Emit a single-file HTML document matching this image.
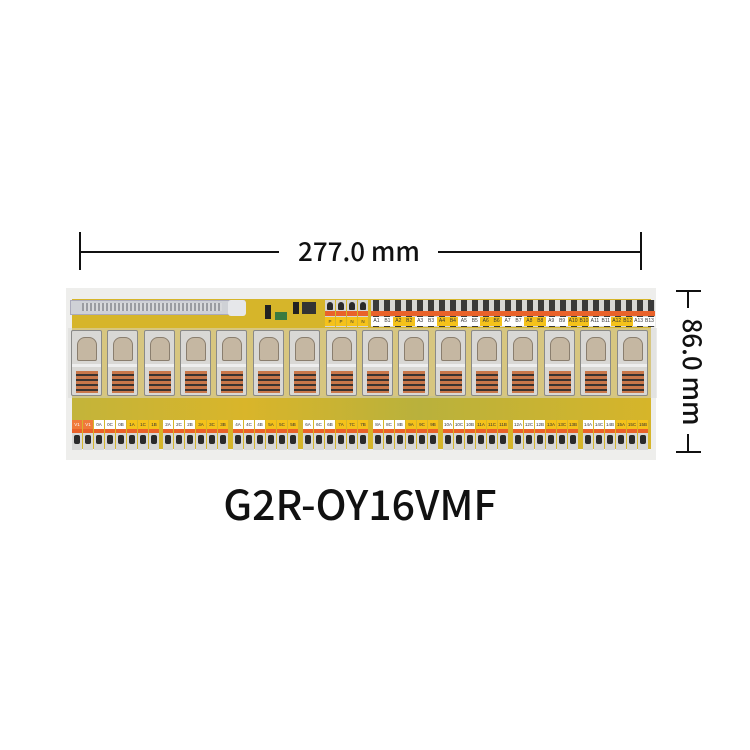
<!DOCTYPE html>
<html><head><meta charset="utf-8"><style>
*{margin:0;padding:0;box-sizing:border-box}
body{width:750px;height:750px;background:#fff;position:relative;overflow:hidden;font-family:"Liberation Sans",sans-serif}
.a{position:absolute}
.dimt{font-family:"Noto Sans CJK SC","Liberation Sans",sans-serif;color:#111;font-weight:500}
.relay{position:absolute;top:330px;width:31px;height:66px;background:#d9d8d5;border:1px solid #8a8a88;border-radius:2px}
.relay .cap{position:absolute;left:5px;top:6px;width:20px;height:24px;background:#c5b7a2;border-radius:8px 8px 2px 2px;border:1px solid #8a7e6e}
.relay .coil{position:absolute;left:4px;top:40px;width:22px;height:22px;background:repeating-linear-gradient(#c9774a 0 3px,#3a3330 3px 5px)}
.relay .mid{position:absolute;left:0;top:33px;width:29px;height:3px;background:#eee}
.tb{position:absolute;height:30px;display:flex;gap:1px}
.t{width:10px;height:30px;position:relative;background:#d8d8d6}
.t .l{position:absolute;top:0;left:0;width:10px;height:9px;font-size:4.5px;line-height:9px;text-align:center;color:#333}
.t .o{position:absolute;top:9px;left:0;width:10px;height:4px;background:#e9622a}
.t .h{position:absolute;top:15px;left:2px;width:6px;height:9px;background:#2a2a2a;border-radius:2px}
.tt{position:absolute;width:10px;height:27px;background:#d6d6d4}
.tt .h{position:absolute;top:2px;left:2px;width:6px;height:8px;background:#2a2a2a;border-radius:3px 3px 1px 1px}
.tt .o{position:absolute;top:11px;left:0;width:10px;height:5px;background:#e9622a}
.tt .l{position:absolute;top:17px;left:0;width:10px;height:9px;font-size:4.5px;line-height:9px;text-align:center;background:#fff;color:#333}
</style></head><body>
<div class="a" style="left:79px;top:232px;width:2px;height:38px;background:#111"></div>
<div class="a" style="left:640px;top:232px;width:2px;height:38px;background:#111"></div>
<div class="a" style="left:79px;top:251px;width:200px;height:2px;background:#111"></div>
<div class="a" style="left:438px;top:251px;width:203px;height:2px;background:#111"></div>
<div class="a dimt" style="left:280px;top:234px;width:158px;text-align:center;font-size:26px;line-height:34px">277.0 mm</div>
<div class="a" style="left:676px;top:290px;width:25px;height:2px;background:#111"></div>
<div class="a" style="left:676px;top:451px;width:25px;height:2px;background:#111"></div>
<div class="a" style="left:687px;top:290px;width:2px;height:18px;background:#111"></div>
<div class="a" style="left:687px;top:434px;width:2px;height:18px;background:#111"></div>
<div class="a dimt" style="left:638px;top:355px;width:110px;height:34px;text-align:center;font-size:26px;line-height:34px;transform:rotate(90deg)">86.0 mm</div>
<div class="a dimt" style="left:130px;top:475px;width:460px;text-align:center;font-size:41px;line-height:54px">G2R-OY16VMF</div>
<div class="a" style="left:66px;top:288px;width:590px;height:172px;background:#eeeeec"></div>
<div class="a" style="left:72px;top:299px;width:579px;height:150px;background:#d6b52a"></div>
<div class="a" style="left:72px;top:396px;width:579px;height:24px;background:linear-gradient(90deg,#c3b43a,#d9b52a 30%,#b9b13c 60%,#d6b52a)"></div>
<div class="a" style="left:70px;top:300px;width:175px;height:15px;background:#cfd1d6;border:1px solid #aab"></div>
<div class="a" style="left:82px;top:303px;width:140px;height:8px;background:repeating-linear-gradient(90deg,#9a9ca2 0 2px,#d8d9dc 2px 4px)"></div>
<div class="a" style="left:228px;top:300px;width:18px;height:16px;background:#e6e7ea;border-radius:3px"></div>
<div class="a" style="left:265px;top:305px;width:6px;height:14px;background:#222"></div>
<div class="a" style="left:293px;top:302px;width:6px;height:12px;background:#222"></div>
<div class="a" style="left:302px;top:302px;width:14px;height:12px;background:#333"></div>
<div class="a" style="left:275px;top:312px;width:12px;height:8px;background:#3a7a40"></div>
<div class="tt" style="left:325px;top:300px"><div class="h"></div><div class="o"></div><div class="l" style="background:#f5c21a">P</div></div>
<div class="tt" style="left:336px;top:300px"><div class="h"></div><div class="o"></div><div class="l" style="background:#f5c21a">P</div></div>
<div class="tt" style="left:347px;top:300px"><div class="h"></div><div class="o"></div><div class="l" style="background:#f5c21a">N</div></div>
<div class="tt" style="left:358px;top:300px"><div class="h"></div><div class="o"></div><div class="l" style="background:#f5c21a">N</div></div>
<div class="a" style="left:371px;top:300px;width:284px;height:27px;background:repeating-linear-gradient(90deg,#d6d6d4 0 2px,#3a3a3a 2px 8px,#d6d6d4 8px 11px)"></div>
<div class="a" style="left:371px;top:311px;width:284px;height:5px;background:#e9622a"></div>
<div class="a" style="left:371px;top:317px;width:284px;height:9px;font-size:5px;line-height:9px;display:flex;color:#333">
<span style="width:11px;background:#fff;text-align:center">A1</span><span style="width:11px;background:#fff;text-align:center">B1</span><span style="width:11px;background:#f5c21a;text-align:center">A2</span><span style="width:11px;background:#f5c21a;text-align:center">B2</span><span style="width:11px;background:#fff;text-align:center">A3</span><span style="width:11px;background:#fff;text-align:center">B3</span><span style="width:11px;background:#f5c21a;text-align:center">A4</span><span style="width:11px;background:#f5c21a;text-align:center">B4</span><span style="width:11px;background:#fff;text-align:center">A5</span><span style="width:11px;background:#fff;text-align:center">B5</span><span style="width:11px;background:#f5c21a;text-align:center">A6</span><span style="width:11px;background:#f5c21a;text-align:center">B6</span><span style="width:11px;background:#fff;text-align:center">A7</span><span style="width:11px;background:#fff;text-align:center">B7</span><span style="width:11px;background:#f5c21a;text-align:center">A8</span><span style="width:11px;background:#f5c21a;text-align:center">B8</span><span style="width:11px;background:#fff;text-align:center">A9</span><span style="width:11px;background:#fff;text-align:center">B9</span><span style="width:11px;background:#f5c21a;text-align:center">A10</span><span style="width:11px;background:#f5c21a;text-align:center">B10</span><span style="width:11px;background:#fff;text-align:center">A11</span><span style="width:11px;background:#fff;text-align:center">B11</span><span style="width:11px;background:#f5c21a;text-align:center">A12</span><span style="width:11px;background:#f5c21a;text-align:center">B12</span><span style="width:11px;background:#fff;text-align:center">A13</span><span style="width:11px;background:#fff;text-align:center">B13</span></div>
<div class="a" style="left:68px;top:328px;width:589px;height:70px;background:#d8d8d6;opacity:.5"></div>
<div class="relay" style="left:71px"><div class="cap"></div><div class="mid"></div><div class="coil"></div></div>
<div class="relay" style="left:107px"><div class="cap"></div><div class="mid"></div><div class="coil"></div></div>
<div class="relay" style="left:144px"><div class="cap"></div><div class="mid"></div><div class="coil"></div></div>
<div class="relay" style="left:180px"><div class="cap"></div><div class="mid"></div><div class="coil"></div></div>
<div class="relay" style="left:216px"><div class="cap"></div><div class="mid"></div><div class="coil"></div></div>
<div class="relay" style="left:253px"><div class="cap"></div><div class="mid"></div><div class="coil"></div></div>
<div class="relay" style="left:289px"><div class="cap"></div><div class="mid"></div><div class="coil"></div></div>
<div class="relay" style="left:326px"><div class="cap"></div><div class="mid"></div><div class="coil"></div></div>
<div class="relay" style="left:362px"><div class="cap"></div><div class="mid"></div><div class="coil"></div></div>
<div class="relay" style="left:398px"><div class="cap"></div><div class="mid"></div><div class="coil"></div></div>
<div class="relay" style="left:435px"><div class="cap"></div><div class="mid"></div><div class="coil"></div></div>
<div class="relay" style="left:471px"><div class="cap"></div><div class="mid"></div><div class="coil"></div></div>
<div class="relay" style="left:507px"><div class="cap"></div><div class="mid"></div><div class="coil"></div></div>
<div class="relay" style="left:544px"><div class="cap"></div><div class="mid"></div><div class="coil"></div></div>
<div class="relay" style="left:580px"><div class="cap"></div><div class="mid"></div><div class="coil"></div></div>
<div class="relay" style="left:617px"><div class="cap"></div><div class="mid"></div><div class="coil"></div></div>
<div class="tb" style="left:72px;top:420px">
<div class="t"><div class="l" style="background:#f07a3a;color:#fff">V1</div><div class="o"></div><div class="h"></div></div>
<div class="t"><div class="l" style="background:#f07a3a;color:#fff">V1</div><div class="o"></div><div class="h"></div></div>
<div class="t"><div class="l" style="background:#fff">0A</div><div class="o"></div><div class="h"></div></div>
<div class="t"><div class="l" style="background:#fff">0C</div><div class="o"></div><div class="h"></div></div>
<div class="t"><div class="l" style="background:#fff">0B</div><div class="o"></div><div class="h"></div></div>
<div class="t"><div class="l" style="background:#f5c21a">1A</div><div class="o"></div><div class="h"></div></div>
<div class="t"><div class="l" style="background:#f5c21a">1C</div><div class="o"></div><div class="h"></div></div>
<div class="t"><div class="l" style="background:#f5c21a">1B</div><div class="o"></div><div class="h"></div></div>
</div>
<div class="tb" style="left:163px;top:420px"><div class="t"><div class="l" style="background:#fff">2A</div><div class="o"></div><div class="h"></div></div><div class="t"><div class="l" style="background:#fff">2C</div><div class="o"></div><div class="h"></div></div><div class="t"><div class="l" style="background:#fff">2B</div><div class="o"></div><div class="h"></div></div><div class="t"><div class="l" style="background:#f5c21a">3A</div><div class="o"></div><div class="h"></div></div><div class="t"><div class="l" style="background:#f5c21a">3C</div><div class="o"></div><div class="h"></div></div><div class="t"><div class="l" style="background:#f5c21a">3B</div><div class="o"></div><div class="h"></div></div></div>
<div class="tb" style="left:233px;top:420px"><div class="t"><div class="l" style="background:#fff">4A</div><div class="o"></div><div class="h"></div></div><div class="t"><div class="l" style="background:#fff">4C</div><div class="o"></div><div class="h"></div></div><div class="t"><div class="l" style="background:#fff">4B</div><div class="o"></div><div class="h"></div></div><div class="t"><div class="l" style="background:#f5c21a">5A</div><div class="o"></div><div class="h"></div></div><div class="t"><div class="l" style="background:#f5c21a">5C</div><div class="o"></div><div class="h"></div></div><div class="t"><div class="l" style="background:#f5c21a">5B</div><div class="o"></div><div class="h"></div></div></div>
<div class="tb" style="left:303px;top:420px"><div class="t"><div class="l" style="background:#fff">6A</div><div class="o"></div><div class="h"></div></div><div class="t"><div class="l" style="background:#fff">6C</div><div class="o"></div><div class="h"></div></div><div class="t"><div class="l" style="background:#fff">6B</div><div class="o"></div><div class="h"></div></div><div class="t"><div class="l" style="background:#f5c21a">7A</div><div class="o"></div><div class="h"></div></div><div class="t"><div class="l" style="background:#f5c21a">7C</div><div class="o"></div><div class="h"></div></div><div class="t"><div class="l" style="background:#f5c21a">7B</div><div class="o"></div><div class="h"></div></div></div>
<div class="tb" style="left:373px;top:420px"><div class="t"><div class="l" style="background:#fff">8A</div><div class="o"></div><div class="h"></div></div><div class="t"><div class="l" style="background:#fff">8C</div><div class="o"></div><div class="h"></div></div><div class="t"><div class="l" style="background:#fff">8B</div><div class="o"></div><div class="h"></div></div><div class="t"><div class="l" style="background:#f5c21a">9A</div><div class="o"></div><div class="h"></div></div><div class="t"><div class="l" style="background:#f5c21a">9C</div><div class="o"></div><div class="h"></div></div><div class="t"><div class="l" style="background:#f5c21a">9B</div><div class="o"></div><div class="h"></div></div></div>
<div class="tb" style="left:443px;top:420px"><div class="t"><div class="l" style="background:#fff">10A</div><div class="o"></div><div class="h"></div></div><div class="t"><div class="l" style="background:#fff">10C</div><div class="o"></div><div class="h"></div></div><div class="t"><div class="l" style="background:#fff">10B</div><div class="o"></div><div class="h"></div></div><div class="t"><div class="l" style="background:#f5c21a">11A</div><div class="o"></div><div class="h"></div></div><div class="t"><div class="l" style="background:#f5c21a">11C</div><div class="o"></div><div class="h"></div></div><div class="t"><div class="l" style="background:#f5c21a">11B</div><div class="o"></div><div class="h"></div></div></div>
<div class="tb" style="left:513px;top:420px"><div class="t"><div class="l" style="background:#fff">12A</div><div class="o"></div><div class="h"></div></div><div class="t"><div class="l" style="background:#fff">12C</div><div class="o"></div><div class="h"></div></div><div class="t"><div class="l" style="background:#fff">12B</div><div class="o"></div><div class="h"></div></div><div class="t"><div class="l" style="background:#f5c21a">13A</div><div class="o"></div><div class="h"></div></div><div class="t"><div class="l" style="background:#f5c21a">13C</div><div class="o"></div><div class="h"></div></div><div class="t"><div class="l" style="background:#f5c21a">13B</div><div class="o"></div><div class="h"></div></div></div>
<div class="tb" style="left:583px;top:420px"><div class="t"><div class="l" style="background:#fff">14A</div><div class="o"></div><div class="h"></div></div><div class="t"><div class="l" style="background:#fff">14C</div><div class="o"></div><div class="h"></div></div><div class="t"><div class="l" style="background:#fff">14B</div><div class="o"></div><div class="h"></div></div><div class="t"><div class="l" style="background:#f5c21a">15A</div><div class="o"></div><div class="h"></div></div><div class="t"><div class="l" style="background:#f5c21a">15C</div><div class="o"></div><div class="h"></div></div><div class="t"><div class="l" style="background:#f5c21a">15B</div><div class="o"></div><div class="h"></div></div></div>
</body></html>
